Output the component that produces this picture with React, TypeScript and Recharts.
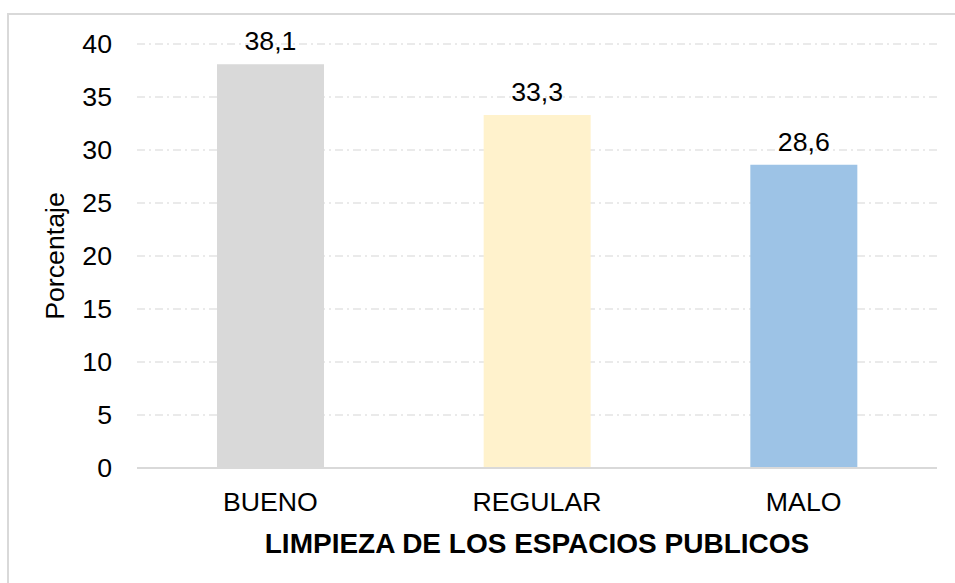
import { BarChart, Bar, XAxis, YAxis, CartesianGrid, LabelList, Cell } from "recharts";

const categories = ["BUENO", "REGULAR", "MALO"];
const porcentajes = [38.1, 33.3, 28.6];
const barColors = ["#d9d9d9", "#fff2cc", "#9dc3e6"];
const yTicks = [0, 5, 10, 15, 20, 25, 30, 35, 40];

const data = categories.map((name, i) => ({ name, value: porcentajes[i] }));

const FONT = "'Liberation Sans', Arial, sans-serif";
const FS = 26.7;
const textStyle = { fontSize: FS, fontFamily: FONT, fill: "#000" };

export default function App() {
  return (
    <div
      style={{
        position: "absolute",
        left: 0,
        top: 0,
        width: 955,
        height: 583,
        overflow: "hidden",
        background: "#fff",
        fontFamily: FONT,
      }}
    >
      <div
        style={{
          position: "absolute",
          left: 7,
          top: 13,
          width: 1000,
          height: 700,
          borderLeft: "2px solid #d9d9d9",
          borderTop: "2px solid #d9d9d9",
        }}
      />
      <BarChart
        width={955}
        height={583}
        data={data}
        margin={{ top: 44, right: 18, left: 40, bottom: 85 }}
        style={{ position: "absolute", left: 0, top: 0 }}
      >
        <CartesianGrid
          vertical={false}
          stroke="#e3e3e3"
          strokeWidth={1.5}
          strokeDasharray="8 4 2 4"
        />
        <XAxis
          dataKey="name"
          fontSize={FS}
          axisLine={{ stroke: "#d9d9d9", strokeWidth: 2 }}
          tickLine={false}
          tickMargin={18}
          tick={{ ...textStyle, style: textStyle }}
          label={{
            value: "LIMPIEZA DE LOS ESPACIOS PUBLICOS",
            position: "insideBottom",
            offset: -55,
            fontSize: 28,
            style: { ...textStyle, fontSize: 28, fontWeight: "bold" },
          }}
        />
        <YAxis
          width={97}
          fontSize={FS}
          domain={[0, 40]}
          ticks={yTicks}
          axisLine={false}
          tickLine={false}
          tickMargin={19}
          tick={{ ...textStyle, style: textStyle }}
          label={{
            value: "Porcentaje",
            angle: -90,
            position: "insideLeft",
            offset: 15,
            fontSize: FS,
            style: { ...textStyle, textAnchor: "middle" },
          }}
        />
        <Bar dataKey="value" barSize={107} isAnimationActive={false}>
          {data.map((d, i) => (
            <Cell key={d.name} fill={barColors[i]} />
          ))}
          <LabelList
            dataKey="value"
            position="top"
            offset={14}
            fontSize={FS}
            formatter={(v: number) => v.toFixed(1).replace(".", ",")}
            style={textStyle}
          />
        </Bar>
      </BarChart>
    </div>
  );
}
